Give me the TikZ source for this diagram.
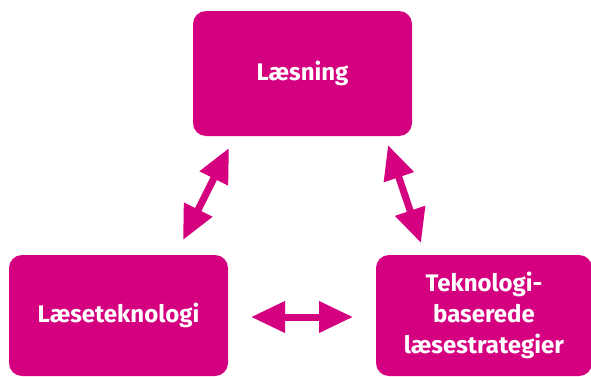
\documentclass[tikz,border=0pt]{standalone}
\usepackage{fontspec}
\setmainfont{Fira Sans}
\usetikzlibrary{positioning,arrows.meta}
\definecolor{laesmagenta}{HTML}{D5007F}

\begin{document}
\begin{tikzpicture}[x=1pt, y=1pt,
  box/.style={fill=laesmagenta, rounded corners=13pt, text=white, align=center,
    minimum height=121pt, font=\bfseries\fontsize{24}{31}\selectfont},
  dblarrow/.style={draw=laesmagenta, line width=7pt,
    {Triangle[length=34pt,width=30pt]}-{Triangle[length=34pt,width=30pt]}}]
\useasboundingbox (0,0) rectangle (591,376);
\node[box, minimum width=219pt, minimum height=125pt] (laes) at (302.5,302.5) {Læsning};
\node[box, minimum width=219pt] (tek) at (118.5,60.5) {Læseteknologi};
\node[box, minimum width=216pt] (strat) at (484,60.5) {Teknologi-\\baserede\\læsestrategier};
\coordinate (a1) at (229,228);
\coordinate (a2) at (183,136);
\coordinate (b1) at (388,231);
\coordinate (b2) at (421,133);
\coordinate (c1) at (251,59);
\coordinate (c2) at (353,59);
\draw[dblarrow] (a1) -- (a2);
\draw[dblarrow] (b1) -- (b2);
\draw[dblarrow] (c1) -- (c2);
\end{tikzpicture}
\end{document}
